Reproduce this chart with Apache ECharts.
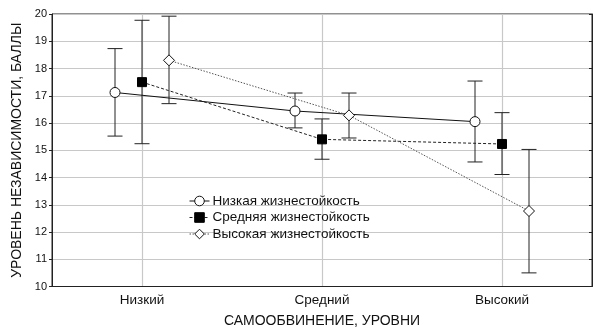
<!DOCTYPE html>
<html>
<head>
<meta charset="utf-8">
<script src="https://cdn.jsdelivr.net/npm/echarts@6/dist/echarts.min.js"></script>
<style>
  html, body { margin: 0; padding: 0; background: #fff; }
  #chart { width: 593px; height: 329px; }
</style>
</head>
<body>
<div id="chart"></div>
<script>
// категории по оси X
const categories = ['Низкий', 'Средний', 'Высокий'];
const seriesNames = ['Низкая жизнестойкость', 'Средняя жизнестойкость', 'Высокая жизнестойкость'];

// средние значения и границы доверительных интервалов
const lowMean = [17.12, 16.44, 16.05];
const lowUpper = [18.73, 17.1, 17.54];
const lowLower = [15.52, 15.82, 14.57];

const midMean = [17.5, 15.4, 15.23];
const midUpper = [19.77, 16.15, 16.38];
const midLower = [15.24, 14.67, 14.11];

const highMean = [18.3, 16.28, 12.77];
const highUpper = [19.92, 17.1, 15.03];
const highLower = [16.71, 15.45, 10.5];

const yTicks = [10, 11, 12, 13, 14, 15, 16, 17, 18, 19, 20];

const font = 'Liberation Sans, Arial, sans-serif';
const shift = [-0.15, 0, 0.15];

const chart = echarts.init(document.getElementById('chart'));

const toPoints = (means, k) => means.map((v, i) => [i + shift[k], v]);
const toBars = (upper, lower, k) => upper.map((u, i) => [i + shift[k], lower[i], u]);

// рисуем "усы" погрешностей
const renderErrorBar = (params, api) => {
    const x = api.value(0);
    const top = api.coord([x, api.value(2)]);
    const bottom = api.coord([x, api.value(1)]);
    const cap = 7.5;
    const style = { stroke: '#222', lineWidth: 1 };
    return {
        type: 'group',
        children: [
            { type: 'line', shape: { x1: top[0], y1: top[1], x2: bottom[0], y2: bottom[1] }, style },
            { type: 'line', shape: { x1: top[0] - cap, y1: top[1], x2: top[0] + cap, y2: top[1] }, style },
            { type: 'line', shape: { x1: bottom[0] - cap, y1: bottom[1], x2: bottom[0] + cap, y2: bottom[1] }, style },
        ],
    };
};

const errorSeries = (upper, lower, k) => ({
    type: 'custom',
    xAxisIndex: 1,
    yAxisIndex: 0,
    silent: true,
    z: 1,
    renderItem: renderErrorBar,
    data: toBars(upper, lower, k),
});

const option = {
    animation: false,
    textStyle: { fontFamily: font },
    grid: {
        left: 52,
        right: 1,
        top: 14,
        bottom: 42.5,
        outerBoundsMode: 'none',
        containLabel: false,
        show: true,
        borderColor: '#222',
        borderWidth: 1,
    },
    legend: {
        orient: 'vertical',
        left: 184,
        top: 189,
        itemWidth: 20,
        itemHeight: 12,
        itemGap: 2.5,
        data: seriesNames,
        lineStyle: { width: 1 },
        itemStyle: { borderWidth: 1 },
        textStyle: { fontFamily: font, fontSize: 13.5, lineHeight: 14, color: '#111', padding: [0, 0, 0, -2] },
    },
    xAxis: [
        {
            type: 'category',
            data: categories,
            boundaryGap: true,
            name: 'САМООБВИНЕНИЕ, УРОВНИ',
            nameLocation: 'middle',
            nameGap: 28,
            nameTextStyle: { fontFamily: font, fontSize: 14, color: '#111' },
            axisLine: { lineStyle: { color: '#222' } },
            axisTick: { alignWithLabel: true, length: 3, lineStyle: { color: '#222' } },
            axisLabel: { fontFamily: font, fontSize: 13.5, color: '#111', margin: 7 },
            splitLine: { show: true, alignWithLabel: true, lineStyle: { color: '#c8c8c8', width: 1.2 } },
        },
        {
            type: 'value',
            min: -0.5,
            max: 2.5,
            show: false,
        },
    ],
    yAxis: [
        {
            type: 'value',
            min: yTicks[0],
            max: yTicks[yTicks.length - 1],
            interval: 1,
            name: 'УРОВЕНЬ НЕЗАВИСИМОСТИ, БАЛЛЫ',
            nameLocation: 'middle',
            nameGap: 27,
            nameTextStyle: { fontFamily: font, fontSize: 14, color: '#111' },
            axisLine: { show: true, onZero: false, lineStyle: { color: '#222' } },
            axisTick: { show: true, length: 3, lineStyle: { color: '#222' } },
            axisLabel: { fontFamily: font, fontSize: 11, color: '#111', margin: 5 },
            splitLine: { show: true, lineStyle: { color: '#c8c8c8', width: 1.2 } },
        },
        {
            type: 'value',
            position: 'right',
            min: yTicks[0],
            max: yTicks[yTicks.length - 1],
            interval: 1,
            axisLine: { show: true, onZero: false, lineStyle: { color: '#222' } },
            axisTick: { show: true, inside: true, length: 3, lineStyle: { color: '#222' } },
            axisLabel: { show: false },
            splitLine: { show: false },
        },
    ],
    series: [
        errorSeries(lowUpper, lowLower, 0),
        errorSeries(midUpper, midLower, 1),
        errorSeries(highUpper, highLower, 2),
        {
            name: seriesNames[0],
            type: 'line',
            xAxisIndex: 1,
            z: 5,
            symbol: 'circle',
            symbolSize: 10,
            itemStyle: { color: '#fff', borderColor: '#111', borderWidth: 1 },
            lineStyle: { color: '#111', width: 1, type: 'solid' },
            data: toPoints(lowMean, 0),
        },
        {
            name: seriesNames[1],
            type: 'line',
            xAxisIndex: 1,
            z: 5,
            symbol: 'rect',
            symbolSize: 9,
            itemStyle: { color: '#000', borderColor: '#000', borderWidth: 1 },
            lineStyle: { color: '#222', width: 1, type: [3, 2] },
            data: toPoints(midMean, 1),
        },
        {
            name: seriesNames[2],
            type: 'line',
            xAxisIndex: 1,
            z: 5,
            symbol: 'diamond',
            symbolSize: 11,
            itemStyle: { color: '#fff', borderColor: '#111', borderWidth: 1 },
            lineStyle: { color: '#555', width: 1, type: [1.5, 1.5] },
            data: toPoints(highMean, 2),
        },
    ],
};

chart.setOption(option);
</script>
</body>
</html>
